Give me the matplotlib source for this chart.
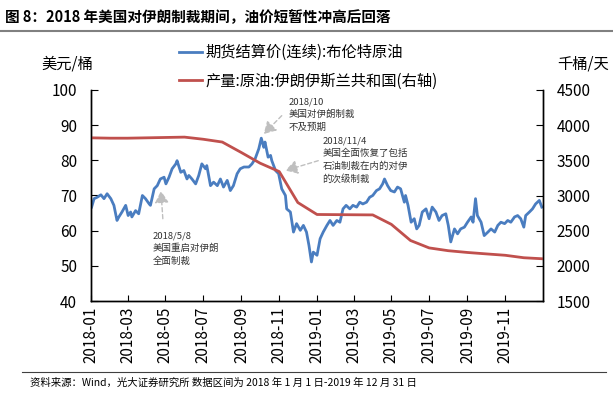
# -*- coding: utf-8 -*-
# 图8：2018年美国对伊朗制裁期间，油价与伊朗原油产量
import numpy as np
import pandas as pd
import matplotlib as mpl
mpl.use('Agg')
import matplotlib.pyplot as plt
import matplotlib.dates as mdates
from matplotlib.lines import Line2D

# 字体
plt.rcParams['font.family'] = ['Noto Sans CJK SC', 'DejaVu Sans']
plt.rcParams['axes.unicode_minus'] = False

# ---- 数据 ----
# 期货结算价(连续):布伦特原油 (美元/桶)
brent_dates = [
    '2018-01-02', '2018-01-06', '2018-01-11', '2018-01-17', '2018-01-22', '2018-01-27',
    '2018-02-02', '2018-02-07', '2018-02-12', '2018-02-15', '2018-02-20', '2018-02-26',
    '2018-03-02', '2018-03-06', '2018-03-08', '2018-03-14', '2018-03-19', '2018-03-25',
    '2018-03-30', '2018-04-05', '2018-04-07', '2018-04-13', '2018-04-18', '2018-04-23',
    '2018-04-29', '2018-05-02', '2018-05-07', '2018-05-12', '2018-05-18', '2018-05-20',
    '2018-05-26', '2018-05-31', '2018-06-05', '2018-06-08', '2018-06-13', '2018-06-19',
    '2018-06-24', '2018-06-29', '2018-07-05', '2018-07-07', '2018-07-13', '2018-07-18',
    '2018-07-24', '2018-07-29', '2018-08-03', '2018-08-09', '2018-08-14', '2018-08-19',
    '2018-08-25', '2018-08-30', '2018-09-05', '2018-09-13', '2018-09-18', '2018-09-23',
    '2018-09-29', '2018-10-03', '2018-10-07', '2018-10-09', '2018-10-14', '2018-10-18',
    '2018-10-20', '2018-10-26', '2018-10-31', '2018-11-05', '2018-11-11', '2018-11-13',
    '2018-11-19', '2018-11-24', '2018-11-29', '2018-12-05', '2018-12-10', '2018-12-15',
    '2018-12-19', '2018-12-23', '2018-12-26', '2019-01-01', '2019-01-06', '2019-01-11',
    '2019-01-17', '2019-01-22', '2019-01-27', '2019-02-02', '2019-02-07', '2019-02-12',
    '2019-02-17', '2019-02-23', '2019-02-28', '2019-03-06', '2019-03-11', '2019-03-16',
    '2019-03-22', '2019-03-27', '2019-04-01', '2019-04-07', '2019-04-12', '2019-04-17',
    '2019-04-20', '2019-04-25', '2019-04-30', '2019-05-06', '2019-05-11', '2019-05-16',
    '2019-05-22', '2019-05-24', '2019-05-28', '2019-06-02', '2019-06-07', '2019-06-11',
    '2019-06-15', '2019-06-20', '2019-06-26', '2019-07-01', '2019-07-06', '2019-07-12',
    '2019-07-17', '2019-07-22', '2019-07-28', '2019-08-01', '2019-08-05', '2019-08-11',
    '2019-08-16', '2019-08-21', '2019-08-27', '2019-09-01', '2019-09-07', '2019-09-10',
    '2019-09-14', '2019-09-17', '2019-09-23', '2019-09-28', '2019-10-04', '2019-10-09',
    '2019-10-15', '2019-10-20', '2019-10-25', '2019-10-31', '2019-11-05', '2019-11-10',
    '2019-11-16', '2019-11-21', '2019-11-26', '2019-12-01', '2019-12-04', '2019-12-10',
    '2019-12-15', '2019-12-20', '2019-12-26', '2019-12-30',
]
brent_vals = [
    66.7, 69.1, 69.5, 70.2, 69.1, 70.5,
    69.1, 67.2, 62.9, 63.9, 65.3, 67.2,
    64.3, 65.3, 63.9, 65.7, 64.8, 70.0,
    69.1, 67.6, 67.2, 71.9, 72.8, 74.7,
    75.2, 73.3, 75.2, 77.6, 79.0, 79.9,
    76.6, 77.1, 74.7, 75.7, 74.7, 73.3,
    75.7, 79.0, 77.6, 78.5, 72.8, 73.8,
    72.8, 74.7, 72.4, 74.3, 71.4, 72.8,
    76.2, 77.6, 78.1, 78.1, 79.0, 80.4,
    83.3, 86.3, 83.7, 85.2, 80.9, 81.4,
    79.9, 77.1, 76.2, 71.9, 70.0, 66.2,
    65.3, 59.6, 62.0, 60.1, 61.5, 59.6,
    55.8, 51.1, 53.9, 53.0, 57.7, 59.6,
    61.5, 62.9, 61.5, 62.9, 62.4, 66.2,
    67.2, 66.2, 67.2, 66.7, 68.1, 67.6,
    68.1, 69.5, 70.0, 71.4, 71.9, 73.3,
    74.7, 72.8, 71.4, 71.0, 72.4, 71.9,
    68.1, 70.0, 67.2, 62.4, 63.4, 60.5,
    61.5, 65.3, 66.2, 63.4, 66.7, 65.3,
    62.9, 64.3, 64.8, 61.5, 56.8, 60.5,
    59.1, 60.5, 61.0, 62.4, 63.9, 62.4,
    69.1, 64.3, 62.4, 58.6, 59.6, 60.5,
    59.6, 61.5, 62.4, 62.0, 62.9, 62.4,
    63.9, 64.3, 63.4, 61.0, 64.3, 65.3,
    66.2, 67.6, 68.6, 66.7,
]

# 产量:原油:伊朗伊斯兰共和国 (千桶/天)
prod_dates = list(pd.date_range('2018-01-01', '2020-01-01', freq='MS').strftime('%Y-%m-%d'))
prod_vals = [
    3820, 3815, 3815, 3820, 3825, 3830, 3800, 3760, 3610, 3460,
    3340, 2900, 2730, 2728, 2726, 2724, 2590, 2360, 2255, 2215,
    2190, 2170, 2150, 2115, 2100,
]

label1 = '期货结算价(连续):布伦特原油'
label2 = '产量:原油:伊朗伊斯兰共和国(右轴)'

# ---- 图 ----
W, H = 613, 394
fig = plt.figure(figsize=(W / 100, H / 100), dpi=100)
ax1 = fig.add_axes([91 / W, 1 - 301 / H, (543 - 91) / W, (301 - 90) / H])
ax2 = ax1.twinx()

blue = '#4A7DC0'
red = '#C0504D'
l1, = ax1.plot(pd.to_datetime(brent_dates), brent_vals, color=blue, lw=2.0, label=label1)
l2, = ax2.plot(pd.to_datetime(prod_dates), prod_vals, color=red, lw=2.0, label=label2)

# 轴范围
ax1.set_xlim(pd.Timestamp('2018-01-01'), pd.Timestamp('2019-12-31 23:00'))
ax1.set_ylim(40, 100)
ax2.set_ylim(1500, 4500)
ax1.set_yticks(np.arange(40, 101, 10))
ax2.set_yticks(np.arange(1500, 4501, 500))
ax1.xaxis.set_major_locator(mdates.MonthLocator(bymonth=[1, 3, 5, 7, 9, 11]))
ax1.xaxis.set_major_formatter(mdates.DateFormatter('%Y-%m'))

# 边框
for ax in (ax1, ax2):
    ax.spines['top'].set_visible(False)
    for s in ('left', 'right', 'bottom'):
        ax.spines[s].set_linewidth(1.0)
        ax.spines[s].set_color('black')

# 刻度
ax1.tick_params(axis='x', direction='in', length=4, labelsize=11, pad=4, labelrotation=90)
ax1.tick_params(axis='y', direction='in', length=5, labelsize=11, pad=10)
ax2.tick_params(axis='y', direction='in', length=5, labelsize=11, pad=10)

# 单位
fig.text(67 / W, 1 - 64 / H, '美元/桶', ha='center', va='center', fontsize=11)
fig.text(583 / W, 1 - 64 / H, '千桶/天', ha='center', va='center', fontsize=11)

# 图例
fig.legend([l1, l2], [label1, label2], loc='upper left',
           bbox_to_anchor=(179 / W, 1 - 44 / H), frameon=False, fontsize=11,
           handlelength=1.5, handletextpad=0.25, labelspacing=0.75,
           borderpad=0, borderaxespad=0)

# 注释
arrow = dict(arrowstyle='-|>,head_length=0.6,head_width=0.35', linestyle=(0, (3, 2)),
             color='#BFBFBF', lw=1.0, mutation_scale=12, shrinkA=0, shrinkB=0)
txt = dict(ha='left', va='top', fontsize=6.8, linespacing=1.45, color='#333333')

ax1.annotate('', xy=(pd.Timestamp('2018-04-24'), 71.3),
             xytext=(pd.Timestamp('2018-04-27'), 63.4), arrowprops=arrow)
ax1.text(pd.Timestamp('2018-04-10'), 59.9, '2018/5/8\n美国重启对伊朗\n全面制裁', **txt)

ax1.annotate('', xy=(pd.Timestamp('2018-10-07'), 87.5),
             xytext=(pd.Timestamp('2018-11-05'), 92.7), arrowprops=arrow)
ax1.text(pd.Timestamp('2018-11-16'), 97.9, '2018/10\n美国对伊朗制裁\n不及预期', **txt)

ax1.annotate('', xy=(pd.Timestamp('2018-11-11'), 77.1),
             xytext=(pd.Timestamp('2019-01-03'), 79.9), arrowprops=arrow)
ax1.text(pd.Timestamp('2019-01-10'), 86.8,
         '2018/11/4\n美国全面恢复了包括\n石油制裁在内的对伊\n的次级制裁', **txt)

# 标题与来源
fig.text(5 / W, 1 - 17 / H, '图 8：2018 年美国对伊朗制裁期间，油价短暂性冲高后回落',
         ha='left', va='center', fontsize=10.5, fontweight='bold')
fig.add_artist(Line2D([0, 1], [1 - 31 / H] * 2, transform=fig.transFigure,
                      color='#808080', lw=1.5))
fig.add_artist(Line2D([22 / W, 606 / W], [1 - 372 / H] * 2, transform=fig.transFigure,
                      color='#404040', lw=0.8))
fig.text(30 / W, 1 - 383 / H,
         '资料来源：Wind，光大证券研究所 数据区间为 2018 年 1 月 1 日-2019 年 12 月 31 日',
         ha='left', va='center', fontsize=7.5)

fig.savefig('out.png', dpi=100, facecolor='white')
